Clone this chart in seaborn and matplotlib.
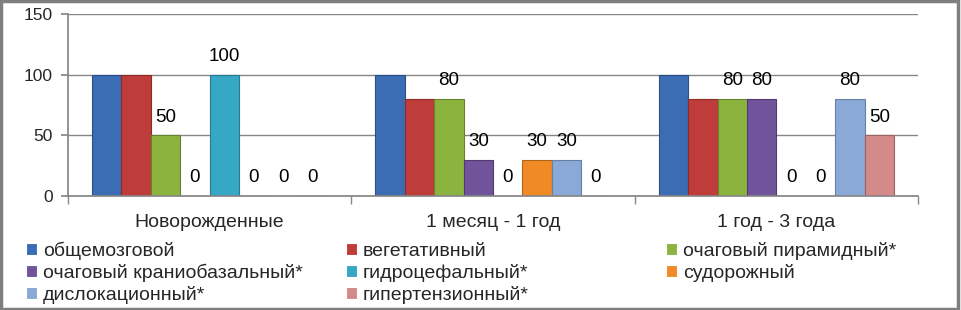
import matplotlib
matplotlib.use("Agg")
import matplotlib.pyplot as plt
import seaborn as sns
import pandas as pd
from matplotlib.patches import Rectangle

groups = ["Новорожденные", "1 месяц - 1 год", "1 год - 3 года"]
series = ["общемозговой", "вегетативный", "очаговый пирамидный*",
          "очаговый краниобазальный*", "гидроцефальный*", "судорожный",
          "дислокационный*", "гипертензионный*"]
obshchemozgovoy = [100, 100, 100]
vegetativny = [100, 80, 80]
piramidny = [50, 80, 80]
kraniobazalny = [0, 30, 80]
gidrocefalny = [100, 0, 0]
sudorozhny = [0, 30, 0]
dislokacionny = [0, 30, 80]
gipertenzionny = [0, 0, 50]
values = [obshchemozgovoy, vegetativny, piramidny, kraniobazalny,
          gidrocefalny, sudorozhny, dislokacionny, gipertenzionny]
colors = ["#3A6DB3", "#BE3D3A", "#8DB33F", "#71539C",
          "#36A7C4", "#F08A24", "#8AA9D6", "#D48A88"]
edges = ["#2A4F86", "#8E2C2A", "#66822D", "#513A72",
         "#26798F", "#B0651A", "#6680A6", "#A0625F"]
labeled = [False, False, True, True, True, True, True, True]

rows = []
for s, vals in zip(series, values):
    for g, v in zip(groups, vals):
        rows.append({"group": g, "series": s, "value": v})
df = pd.DataFrame(rows)

sns.set_theme(style="white")
plt.rcParams["font.family"] = ["Liberation Sans", "DejaVu Sans"]

fig = plt.figure(figsize=(9.61, 3.10), dpi=100)
ax = fig.add_axes([68 / 961, 1 - 196 / 310, (918 - 68) / 961, (196 - 14) / 310])

sns.barplot(data=df, x="group", y="value", hue="series", order=groups,
            hue_order=series, palette=colors, width=0.83, errorbar=None,
            ax=ax, linewidth=0.8, saturation=1)

for i, cont in enumerate(ax.containers):
    for p in cont:
        p.set_edgecolor(edges[i])
    if labeled[i]:
        ax.bar_label(cont, labels=[str(v) for v in values[i]], padding=7,
                     fontsize=13.5, color="black")

handles, labels = ax.get_legend_handles_labels()
if ax.get_legend() is not None:
    ax.get_legend().remove()

ax.set_ylim(0, 150)
ax.set_xlim(-0.5, 2.5)
ax.set_yticks([0, 50, 100, 150])
ax.yaxis.grid(True, color="#868686", linewidth=1)
ax.set_axisbelow(True)
ax.set_xlabel("")
ax.set_ylabel("")
for side in ["top", "right"]:
    ax.spines[side].set_visible(False)
ax.spines["left"].set_color("#868686")
ax.spines["bottom"].set_color("#868686")
ax.tick_params(axis="y", labelsize=12.5, length=5, color="#868686",
               direction="out", left=True, pad=6)
ax.tick_params(axis="x", labelsize=14, length=0, pad=13)
ax.set_xticks([-0.5, 0.5, 1.5, 2.5], minor=True)
ax.tick_params(axis="x", which="minor", length=6, color="#868686",
               direction="out", bottom=True)

# legend entries laid out row-wise in three columns
col_x = [26, 346, 666]
row_y = [251, 273, 295]
for k in range(len(series)):
    r, c = divmod(k, 3)
    fig.legend([handles[k]], [labels[k]], loc="center left",
               bbox_to_anchor=(col_x[c] / 961, 1 - row_y[r] / 310),
               frameon=False, fontsize=14, handlelength=0.57,
               handleheight=0.57, handletextpad=0.3,
               borderaxespad=0, borderpad=0)

fig.patches.append(Rectangle((0.001, 0.002), 0.996, 0.994,
                             transform=fig.transFigure, fill=False,
                             edgecolor="#7F7F7F", linewidth=2.5))

fig.savefig("out.png", dpi=100)
